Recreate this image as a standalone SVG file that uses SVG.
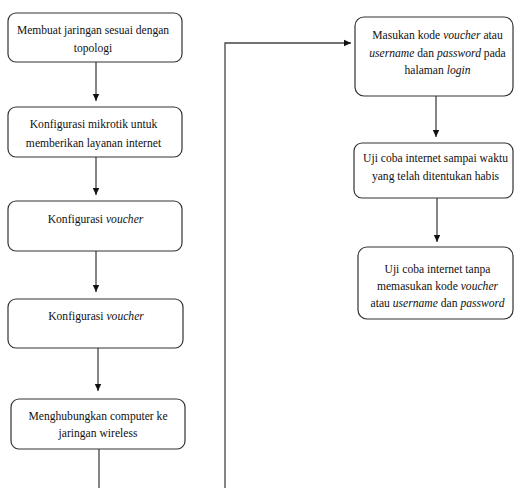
<svg xmlns="http://www.w3.org/2000/svg" width="515" height="488" viewBox="0 0 515 488">
<style>
.box{fill:#fff;stroke:#333;stroke-width:1.2}
.t{font-family:"Liberation Serif","Times New Roman",serif;font-size:13.5px;fill:#111;text-anchor:middle}
.i{font-style:italic}
.c{fill:none;stroke:#444;stroke-width:1.3}
</style>
<defs>
<marker id="ah" markerWidth="8" markerHeight="8" refX="7" refY="4" orient="auto" markerUnits="userSpaceOnUse">
<path d="M0,0.8 L7,4 L0,7.2 Z" fill="#111"/>
</marker>
</defs>
<rect width="515" height="488" fill="#fff"/>
<g id="connectors">
<line class="c" x1="96" y1="62" x2="96" y2="101" marker-end="url(#ah)"/>
<line class="c" x1="96" y1="157" x2="96" y2="195" marker-end="url(#ah)"/>
<line class="c" x1="96" y1="251" x2="96" y2="292" marker-end="url(#ah)"/>
<line class="c" x1="98" y1="348" x2="98" y2="391" marker-end="url(#ah)"/>
<line class="c" x1="99" y1="449" x2="99" y2="488"/>
<polyline class="c" points="225,488 225,43 351,43" marker-end="url(#ah)"/>
<line class="c" x1="436" y1="96" x2="436" y2="137" marker-end="url(#ah)"/>
<line class="c" x1="437" y1="198" x2="437" y2="242" marker-end="url(#ah)"/>
</g>
<g id="n1">
<rect class="box" x="8" y="13" width="174" height="49" rx="8"/>
<g transform="translate(93,0) scale(0.855,1)">
<text class="t" x="0" y="34">Membuat jaringan sesuai dengan</text>
<text class="t" x="0" y="52">topologi</text>
</g>
</g>
<g id="n2">
<rect class="box" x="8" y="107" width="174" height="50" rx="8"/>
<g transform="translate(93.5,0) scale(0.86,1)">
<text class="t" x="0" y="128">Konfigurasi mikrotik untuk</text>
<text class="t" x="0" y="147">memberikan layanan internet</text>
</g>
</g>
<g id="n3">
<rect class="box" x="8" y="201" width="174" height="50" rx="8"/>
<g transform="translate(95.5,0) scale(0.86,1)">
<text class="t" x="0" y="223">Konfigurasi <tspan class="i">voucher</tspan></text>
</g>
</g>
<g id="n4">
<rect class="box" x="8" y="299" width="175" height="49" rx="8"/>
<g transform="translate(96,0) scale(0.86,1)">
<text class="t" x="0" y="320">Konfigurasi <tspan class="i">voucher</tspan></text>
</g>
</g>
<g id="n5">
<rect class="box" x="11" y="399" width="174" height="50" rx="8"/>
<g transform="translate(98,0) scale(0.86,1)">
<text class="t" x="0" y="420">Menghubungkan computer ke</text>
<text class="t" x="0" y="437">jaringan wireless</text>
</g>
</g>
<g id="n6">
<rect class="box" x="355" y="17" width="158" height="79" rx="9"/>
<g transform="translate(437.5,0) scale(0.86,1)">
<text class="t" x="0" y="39">Masukan kode <tspan class="i">voucher</tspan> atau</text>
<text class="t" x="0" y="57"><tspan class="i">username</tspan> dan <tspan class="i">password</tspan> pada</text>
<text class="t" x="0" y="74">halaman <tspan class="i">login</tspan></text>
</g>
</g>
<g id="n7">
<rect class="box" x="354" y="143" width="159" height="55" rx="8"/>
<g transform="translate(435.5,0) scale(0.86,1)">
<text class="t" x="0" y="162">Uji coba internet sampai waktu</text>
<text class="t" x="0" y="180">yang telah ditentukan habis</text>
</g>
</g>
<g id="n8">
<rect class="box" x="358" y="247" width="155" height="72" rx="9"/>
<g transform="translate(437.5,0) scale(0.86,1)">
<text class="t" x="0" y="273">Uji coba internet tanpa</text>
<text class="t" x="0" y="290">memasukan kode <tspan class="i">voucher</tspan></text>
<text class="t" x="0" y="307">atau <tspan class="i">username</tspan> dan <tspan class="i">password</tspan></text>
</g>
</g>
</svg>
